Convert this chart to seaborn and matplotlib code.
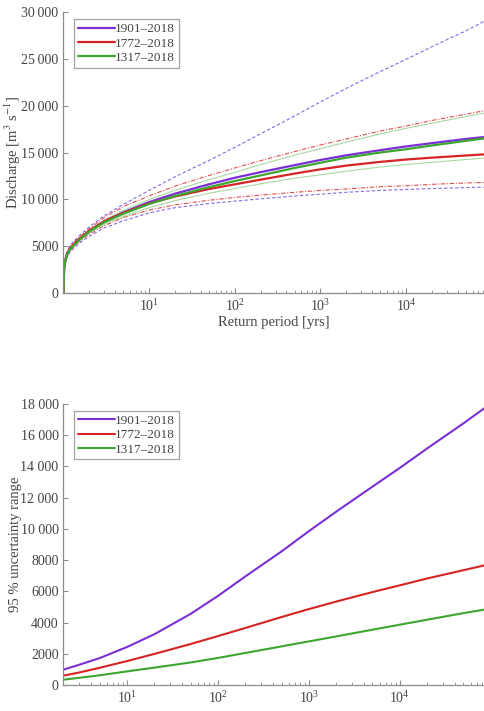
import numpy as np
import matplotlib
matplotlib.use("Agg")
import matplotlib.pyplot as plt
import seaborn as sns
from matplotlib.ticker import FuncFormatter, LogLocator, NullFormatter

# Return periods [yrs] where the curves were read
T_TOP = [1.0, 1.02, 1.05, 1.1, 1.2, 1.5, 2, 3, 5, 10, 20, 50, 100, 200, 500,
         1e3, 2e3, 5e3, 1e4, 2e4, 5e4, 8.1e4]

# Discharge [m3 s-1]: central estimate and 95 % bounds
Q_1901 = [0, 2700, 3400, 4100, 4750, 5650, 6600, 7650, 8600, 9700, 10600, 11600,
          12300, 12900, 13650, 14200, 14700, 15250, 15650, 16000, 16450, 16650]
Q_1901_LO = [0, 2500, 3150, 3800, 4400, 5250, 6050, 6950, 7700, 8550, 9100, 9550,
             9800, 10050, 10350, 10550, 10750, 10950, 11050, 11150, 11250, 11300]
Q_1901_HI = [0, 2900, 3650, 4400, 5100, 6050, 7050, 8250, 9450, 10950, 12400, 14150,
             15550, 17000, 18900, 20400, 21850, 23650, 24950, 26300, 28000, 29000]

Q_1772 = [0, 2750, 3450, 4150, 4800, 5700, 6650, 7650, 8550, 9550, 10300, 11100,
          11600, 12100, 12750, 13200, 13600, 14000, 14250, 14450, 14680, 14800]
Q_1772_LO = [0, 2600, 3250, 3900, 4500, 5400, 6250, 7200, 8050, 8850, 9400, 9900,
             10200, 10450, 10750, 10950, 11100, 11350, 11450, 11600, 11750, 11800]
Q_1772_HI = [0, 2900, 3600, 4300, 4950, 5900, 6850, 8070, 9220, 10360, 11410, 12550,
             13350, 14130, 15100, 15810, 16440, 17300, 17830, 18420, 19100, 19450]

Q_1317 = [0, 2650, 3350, 4050, 4700, 5600, 6550, 7550, 8450, 9500, 10350, 11300,
          11950, 12550, 13350, 13900, 14450, 15000, 15350, 15750, 16250, 16500]
Q_1317_LO = [0, 2550, 3250, 3950, 4580, 5450, 6380, 7330, 8180, 9100, 9850, 10650,
             11150, 11650, 12250, 12620, 13000, 13450, 13720, 13950, 14250, 14400]
Q_1317_HI = [0, 2750, 3480, 4200, 4860, 5770, 6720, 7790, 8800, 9970, 10960, 12090,
             12880, 13700, 14720, 15410, 16110, 16990, 17580, 18130, 18850, 19200]

# Width of the 95 % uncertainty range
T_BOT = [2, 3, 5, 10, 20, 50, 100, 200, 500, 1e3, 2e3, 5e3, 1e4, 2e4, 5e4, 8.4e4]
RANGE_1901 = [980, 1300, 1720, 2430, 3250, 4550, 5700, 6950, 8550, 9850, 11100,
              12700, 13900, 15150, 16750, 17700]
RANGE_1772 = [600, 800, 1100, 1530, 1990, 2620, 3130, 3650, 4350, 4860, 5340,
              5950, 6380, 6820, 7350, 7650]
RANGE_1317 = [340, 460, 620, 870, 1110, 1440, 1730, 2050, 2470, 2790, 3110,
              3540, 3860, 4180, 4600, 4820]

LABELS = ["1901\u20132018", "1772\u20132018", "1317\u20132018"]
COLORS = ["#7b2fd6", "#d62424", "#3da62f"]
BOUND_COLORS = ["#8a66e6", "#e05050", "#a8d8a0"]
BOUND_STYLES = [(0, (3, 2)), (0, (4, 1.5, 1, 1.5)), "-"]


def thousands(sep):
    def fmt(v, pos):
        v = int(round(v))
        if v >= 10000:
            s = f"{v:d}"
            return s[:-3] + sep + s[-3:]
        return f"{v:d}"
    return FuncFormatter(fmt)


def style_axis(ax):
    for side in ["top", "right"]:
        ax.spines[side].set_visible(False)
    for side in ["left", "bottom"]:
        ax.spines[side].set_color("#8c8c8c")
        ax.spines[side].set_linewidth(0.9)
    ax.set_xscale("log")
    ax.set_xticks([10, 100, 1000, 10000])
    ax.xaxis.set_minor_locator(LogLocator(base=10, subs=np.arange(2, 10), numticks=20))
    ax.xaxis.set_minor_formatter(NullFormatter())
    ax.tick_params(which="both", direction="in", colors="#8c8c8c",
                   labelcolor="#444444", labelsize=10)
    ax.tick_params(which="major", length=3.5, width=0.8)
    ax.tick_params(which="minor", length=2, width=0.6)
    ax.grid(False)


sns.set_theme(style="ticks")
plt.rcParams["font.family"] = ["Liberation Serif", "DejaVu Serif"]
plt.rcParams["mathtext.fontset"] = "stix"

fig = plt.figure(figsize=(4.84, 7.11), dpi=100)
ax1 = fig.add_axes([0.131, 0.588, 0.869, 0.395])
ax2 = fig.add_axes([0.131, 0.0366, 0.869, 0.3954])

top_sets = [(Q_1901, Q_1901_LO, Q_1901_HI), (Q_1772, Q_1772_LO, Q_1772_HI),
            (Q_1317, Q_1317_LO, Q_1317_HI)]

# bounds first, thin
for (mid, lo, hi), bc, bs in zip(top_sets, BOUND_COLORS, BOUND_STYLES):
    for b in (lo, hi):
        sns.lineplot(x=T_TOP, y=b, ax=ax1, color=bc, linewidth=0.8,
                     linestyle=bs, sort=False, estimator=None)

for (mid, lo, hi), c, lab in zip(top_sets, COLORS, LABELS):
    sns.lineplot(x=T_TOP, y=mid, ax=ax1, color=c, linewidth=1.6, label=lab,
                 sort=False, estimator=None)

style_axis(ax1)
ax1.set_xlim(1, 10 ** 4.91)
ax1.set_ylim(0, 30000)
ax1.set_yticks(np.arange(0, 30001, 5000))
ax1.yaxis.set_major_formatter(thousands("\u2009"))
ax1.set_xlabel("Return period [yrs]", fontsize=10.5, color="#444444", labelpad=2)
ax1.set_ylabel("Discharge [m$^3$ s$^{-1}$]", fontsize=10.5, color="#444444", labelpad=-1)

for rng, c, lab in zip([RANGE_1901, RANGE_1772, RANGE_1317], COLORS, LABELS):
    sns.lineplot(x=T_BOT, y=rng, ax=ax2, color=c, linewidth=1.5, label=lab,
                 sort=False, estimator=None)

style_axis(ax2)
ax2.set_xlim(2, 10 ** 4.925)
ax2.set_ylim(0, 18000)
ax2.set_yticks(np.arange(0, 18001, 2000))
ax2.yaxis.set_major_formatter(thousands(" "))
ax2.set_ylabel("95 % uncertainty range", fontsize=10.5, color="#444444", labelpad=-1)
ax2.set_xlabel("")

for ax in (ax1, ax2):
    leg = ax.legend(loc="upper left", bbox_to_anchor=(0.025, 0.975), fontsize=9.5,
                    frameon=True, fancybox=False, handlelength=2.8,
                    handletextpad=0.0, borderpad=0.3, labelspacing=0.15,
                    borderaxespad=0.0)
    leg.get_frame().set_edgecolor("#8c8c8c")
    leg.get_frame().set_linewidth(0.9)
    for t in leg.get_texts():
        t.set_color("#444444")

fig.savefig("out.png", dpi=100)
